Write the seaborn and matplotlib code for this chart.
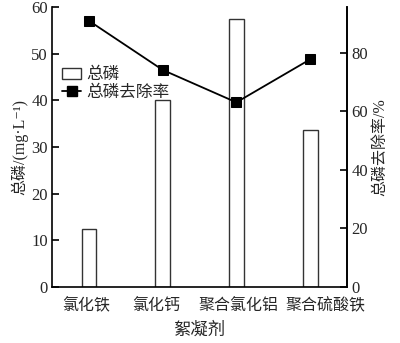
import matplotlib
matplotlib.use("Agg")
import matplotlib.pyplot as plt
import matplotlib.transforms as mtransforms
import seaborn as sns
import pandas as pd
from matplotlib.patches import Patch
from matplotlib.lines import Line2D

categories = ["氯化铁", "氯化钙", "聚合氯化铝", "聚合硫酸铁"]
tp_values = [12.4, 40.0, 57.4, 33.6]
removal_values = [91.0, 74.2, 63.1, 77.8]
left_ticks = [0, 10, 20, 30, 40, 50, 60]
right_ticks = [0, 20, 40, 60, 80]

sns.set_theme(style="white")
plt.rcParams['font.family'] = ['Liberation Serif', 'Noto Sans CJK SC', 'DejaVu Sans']
plt.rcParams['axes.unicode_minus'] = False

df = pd.DataFrame({"cat": categories, "tp": tp_values, "rem": removal_values})

fig = plt.figure(figsize=(4.0, 3.43), dpi=100)
ax = fig.add_axes([0.13, 0.1633, 0.7375, 0.8163])
sns.barplot(data=df, x="cat", y="tp", ax=ax, color="white", edgecolor="#333333",
            linewidth=1.0, width=0.2, saturation=1)
ax.set_xlim(-0.5, 3.5)
ax.set_ylim(0, 60)
ax.set_yticks(left_ticks)

ax2 = ax.twinx()
x_pos = list(range(len(categories)))
sns.lineplot(x=x_pos, y=removal_values, ax=ax2, color="black", marker="s",
             markersize=6.5, linewidth=1.3, markeredgecolor="black")
ax2.set_ylim(0, 95.7)
ax2.set_yticks(right_ticks)
ax2.set_xlim(-0.5, 3.5)

for a in (ax, ax2):
    a.spines['top'].set_visible(False)
    for s in a.spines.values():
        s.set_color("black")
        s.set_linewidth(1.2)
ax2.spines['left'].set_visible(False)
ax2.spines['bottom'].set_visible(False)

ax.tick_params(axis='y', direction='in', length=5, width=1.2, labelsize=12, pad=3, color="black", left=True)
ax.tick_params(axis='x', length=0, labelsize=11.5, pad=8)
ax2.tick_params(axis='y', direction='in', length=5, width=1.2, labelsize=12, pad=3, color="black", right=True)

# nudge category labels horizontally as laid out in the reference
label_shifts_px = [-3, -6, 2, 15]
for lbl, dx in zip(ax.get_xticklabels(), label_shifts_px):
    lbl.set_transform(lbl.get_transform() + mtransforms.ScaledTranslation(dx / 100, 0, fig.dpi_scale_trans))

ax.set_xlabel("絮凝剂", fontsize=12.5, labelpad=6)
ax.set_ylabel("总磷/(mg·L⁻¹)", fontsize=11.5, labelpad=2)
ax2.set_ylabel("总磷去除率/%", fontsize=11.5, labelpad=3)

handles = [Patch(facecolor="white", edgecolor="#333333", linewidth=1.0),
           Line2D([0], [0], color="black", marker="s", markersize=6.5, linewidth=1.3)]
ax2.legend(handles, ["总磷", "总磷去除率"], loc="upper left", bbox_to_anchor=(0.0, 0.82),
           frameon=False, fontsize=12, handlelength=1.15, handletextpad=0.3,
           labelspacing=0.1, borderaxespad=0.2)

fig.savefig("out.png", dpi=100)
